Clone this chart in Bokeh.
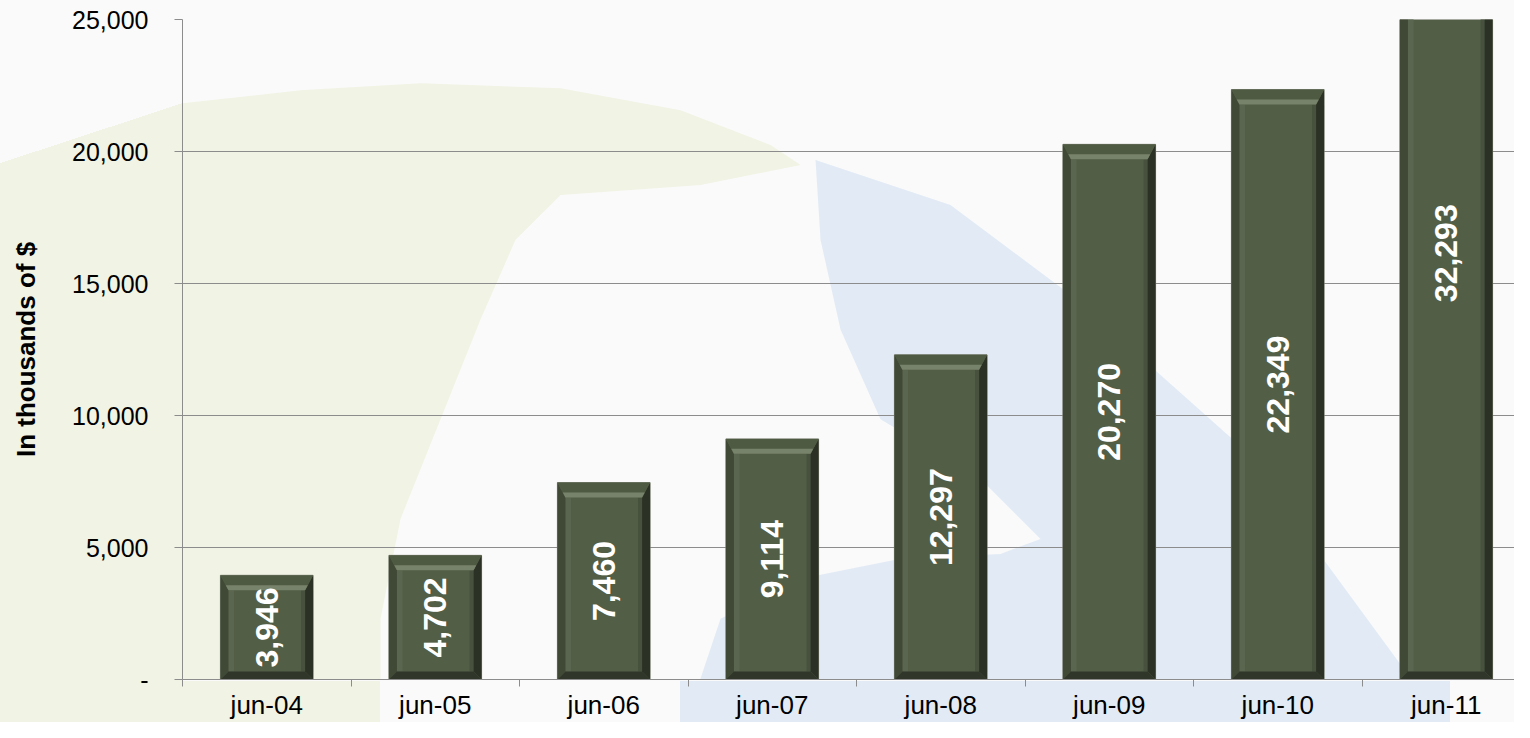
import math
from bokeh.plotting import figure
from bokeh.models import Range1d, FixedTicker
from bokeh.core.properties import value
from bokeh.embed import file_html
from bokeh.resources import INLINE

# ---------------- data ----------------
CATEGORIES = ["jun-04", "jun-05", "jun-06", "jun-07", "jun-08", "jun-09", "jun-10", "jun-11"]
VALUES = [3946, 4702, 7460, 9114, 12297, 20270, 22349, 32293]
Y_TICKS = [0, 5000, 10000, 15000, 20000, 25000]
Y_TICK_LABELS = ["-", "5,000", "10,000", "15,000", "20,000", "25,000"]
AXIS_TITLE = "In thousands of $"
Y_MAX = 25000

# faint watermark shapes behind the plot (reference-image pixel coordinates)
WM_YELLOW_X = [182, 300, 420, 560, 680, 770, 800, 700, 560, 515, 480, 440, 400, 380, 380, 182]
WM_YELLOW_Y = [103, 90, 83, 88, 110, 145, 165, 185, 195, 240, 320, 420, 520, 620, 700, 700]
WM_BLUE_X = [815, 950, 1070, 1240, 1414, 1450, 680, 720, 800, 900, 1000, 1040, 980, 880, 840, 820]
WM_BLUE_Y = [160, 205, 295, 447, 685, 740, 740, 620, 580, 560, 555, 540, 480, 420, 330, 240]

# ---------------- layout constants ----------------
W, H = 1514, 722
FRAME_L, FRAME_T = 182, 19
FRAME_B = H - 681
FRAME_W = W - FRAME_L
FRAME_H = H - FRAME_T - FRAME_B
PX_PER_CAT = 168.5
PX_PER_Y = FRAME_H / Y_MAX

BAR_W = 0.55
SIDE_PX, TOP_PX, BOT_PX, HL_PX = 8, 15, 8, 5

bg_css = (
    "linear-gradient(to right, #f1f3e4 0px, #f1f3e4 380px, #fafafa 380px, #fafafa 680px, "
    "#e2ebf5 680px, #e2ebf5 1450px, #fafafa 1450px) left bottom / 100% " + f"{FRAME_B}px no-repeat, "
    "linear-gradient(161.8deg, #fafafa 0px, #fafafa 155px, #f1f3e4 155px, #f1f3e4 100%) "
    "0px 0px / " + f"{FRAME_L}px 100% no-repeat, #fafafa"
)

p = figure(
    width=W, height=H, output_backend="svg", toolbar_location=None,
    x_range=Range1d(0, FRAME_W / PX_PER_CAT), y_range=Range1d(0, Y_MAX),
    min_border_left=FRAME_L, min_border_right=0, min_border_top=FRAME_T, min_border_bottom=FRAME_B,
    background_fill_color="#fafafa", border_fill_alpha=0, outline_line_color=None,
    styles={"background": bg_css},
)

# watermark
p.extra_x_ranges = {"bg": Range1d(182, 182 + FRAME_W)}
p.extra_y_ranges = {"bg": Range1d(681, 19)}
p.patch(WM_YELLOW_X, WM_YELLOW_Y, x_range_name="bg", y_range_name="bg",
        fill_color="#f1f3e4", line_color=None, level="underlay")
p.patch(WM_BLUE_X, WM_BLUE_Y, x_range_name="bg", y_range_name="bg",
        fill_color="#e2ebf5", line_color=None, level="underlay")

# ---------------- axes / grid ----------------
centers = [i + 0.5 for i in range(len(CATEGORIES))]
bounds = list(range(len(CATEGORIES) + 1))

xa = p.xaxis[0]
xa.ticker = FixedTicker(ticks=centers, minor_ticks=bounds)
xa.major_label_overrides = {c: lab for c, lab in zip(centers, CATEGORIES)}
xa.major_tick_line_color = None
xa.major_tick_out = 8
xa.major_tick_in = 0
xa.minor_tick_line_color = "#8c8c8c"
xa.minor_tick_out = 7
xa.minor_tick_in = 0
xa.major_label_standoff = 2
xa.axis_line_color = "#8c8c8c"
xa.major_label_text_font = "Liberation Sans"
xa.major_label_text_font_size = "26px"
xa.major_label_text_color = "#000000"

ya = p.yaxis[0]
ya.ticker = FixedTicker(ticks=Y_TICKS, minor_ticks=[])
ya.major_label_overrides = {t: lab for t, lab in zip(Y_TICKS, Y_TICK_LABELS)}
ya.major_tick_line_color = "#8c8c8c"
ya.major_tick_out = 8
ya.major_tick_in = 0
ya.minor_tick_line_color = None
ya.major_label_standoff = 26
ya.axis_line_color = "#8c8c8c"
ya.major_label_text_font = "Liberation Sans"
ya.major_label_text_font_size = "25px"
ya.major_label_text_color = "#000000"
ya.axis_label = AXIS_TITLE
ya.axis_label_text_font = "Liberation Sans"
ya.axis_label_text_font_style = "bold"
ya.axis_label_text_font_size = "26px"
ya.axis_label_text_color = "#000000"
ya.axis_label_standoff = 28

p.xgrid.visible = False
p.ygrid[0].ticker = ya.ticker
p.ygrid.grid_line_color = "#8c8c8c"
p.ygrid.grid_line_width = 1

# ---------------- bars with bevel ----------------
bx = SIDE_PX / PX_PER_CAT
bt = TOP_PX / PX_PER_Y
bb = BOT_PX / PX_PER_Y
hl = HL_PX / PX_PER_Y

p.vbar(x=centers, top=VALUES, bottom=0, width=BAR_W,
       fill_color="#535e46", line_color="#7c8274", line_width=1)

left_x, left_y, right_x, right_y = [], [], [], []
top_x, top_y, bot_x, bot_y = [], [], [], []
hl_x, hl_y, lstrip_x, lstrip_y, rstrip_x, rstrip_y = [], [], [], [], [], []
for c, v in zip(centers, VALUES):
    x0, x1 = c - BAR_W / 2, c + BAR_W / 2
    y0, y1 = 0, v
    left_x.append([x0, x0, x0 + bx, x0 + bx]); left_y.append([y0, y1, y1 - bt, y0 + bb])
    right_x.append([x1, x1, x1 - bx, x1 - bx]); right_y.append([y0, y1, y1 - bt, y0 + bb])
    top_x.append([x0, x1, x1 - bx, x0 + bx]); top_y.append([y1, y1, y1 - bt, y1 - bt])
    bot_x.append([x0, x1, x1 - bx, x0 + bx]); bot_y.append([y0, y0, y0 + bb, y0 + bb])
    f = (TOP_PX - HL_PX) / TOP_PX
    hl_x.append([x0 + bx * f, x1 - bx * f, x1 - bx, x0 + bx])
    hl_y.append([y1 - bt + hl, y1 - bt + hl, y1 - bt, y1 - bt])
    lstrip_x.append([x0 + bx, x0 + bx * 1.7, x0 + bx * 1.7, x0 + bx])
    lstrip_y.append([y0 + bb, y0 + bb, y1 - bt, y1 - bt])
    rstrip_x.append([x1 - bx, x1 - bx * 1.5, x1 - bx * 1.5, x1 - bx])
    rstrip_y.append([y0 + bb, y0 + bb, y1 - bt, y1 - bt])

p.patches(lstrip_x, lstrip_y, fill_color="#5b6650", line_color=None)
p.patches(rstrip_x, rstrip_y, fill_color="#47513d", line_color=None)
p.patches(left_x, left_y, fill_color="#404936", line_color=None)
p.patches(right_x, right_y, fill_color="#2b3124", line_color=None)
p.patches(bot_x, bot_y, fill_color="#30372a", line_color=None)
p.patches(top_x, top_y, fill_color="#4f5a43", line_color=None)
p.patches(hl_x, hl_y, fill_color="#78836b", line_color=None)

# ---------------- value labels ----------------
p.text(x=centers, y=[v / 2 for v in VALUES], text=[f"{v:,}" for v in VALUES],
       angle=math.pi / 2, text_align="center", text_baseline="middle",
       text_font=value("Liberation Sans"), text_font_style="bold",
       text_font_size="32px", text_color="#ffffff")

open("out.html", "w").write(file_html(p, INLINE))
